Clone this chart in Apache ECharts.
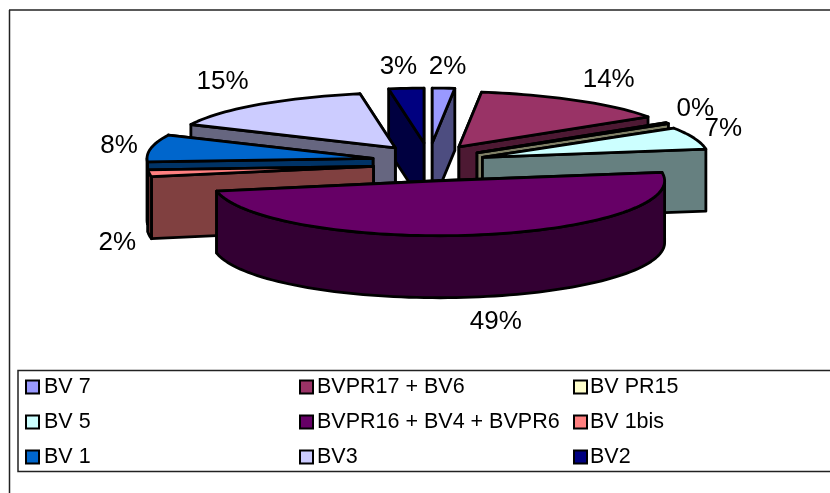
<!DOCTYPE html>
<html><head><meta charset="utf-8">
<style>html,body{margin:0;padding:0;background:#fff}#c{width:830px;height:493px}</style>
<script src="https://cdn.jsdelivr.net/npm/echarts@6/dist/echarts.min.js"></script>
</head><body><div id="c"></div>
<script>
const categories = ['BV 7','BVPR17 + BV6','BV PR15','BV 5','BVPR16 + BV4 + BVPR6','BV 1bis','BV 1','BV3','BV2'];
const values = [1.8,14,0.3,6.5,49.4,2,8,15.2,2.8];
const labels = ['2%','14%','0%','7%','49%','2%','8%','15%','3%'];
const topColors = ['#9999FF','#993366','#FFFFCC','#CCFFFF','#660066','#FF8080','#0066CC','#CCCCFF','#000080'];
const wallColors = ['#4D4D80','#4D1933','#808066','#668080','#330033','#804040','#003366','#666680','#000040'];
const labelOffsets = [[4,-21],[35,-20],[28,-14],[29,-9],[19,87],[-32,70],[-32,-2],[-38,-22],[-8,-21]];
const sliceNudges = [[0,0],[0,1],[0,1],[0,2],[0,0],[1,2],[0,0],[1,1],[0,0]];
const legendColumns = [[0,3,6],[1,4,7],[2,5,8]];
const legendLefts = [25,299,573];
const legendTextPads = [0,-1,-2];

const PIE = {cx:429, cy:162, rx:226, ry:55, depth:62, ex:57, ey:19, persp:0.12};
const total = values.reduce((a,b)=>a+b,0);
const rad = d=>d*Math.PI/180;
const slices = []; let acc = 0;
values.forEach((v,i)=>{
  const a0 = acc/total*2*Math.PI; acc += v; const a1 = acc/total*2*Math.PI; const m=(a0+a1)/2;
  slices.push({a0,a1,m,
    cx:PIE.cx+PIE.ex*Math.sin(m)+sliceNudges[i][0],
    cy:PIE.cy-PIE.ey*Math.cos(m)+sliceNudges[i][1]});
});
const rim=(s,a)=>{
  const c=Math.cos(a), f=1-PIE.persp*Math.pow(Math.max(0,c),8);
  return [s.cx+PIE.rx*f*Math.sin(a),s.cy-PIE.ry*c];
};
function arcPts(s,a0,a1,dy){
  const n=Math.max(2,Math.ceil((a1-a0)/rad(2))),p=[];
  for(let k=0;k<=n;k++){const r=rim(s,a0+(a1-a0)*k/n);p.push([r[0],r[1]+dy]);}
  return p;
}
const order = slices.map((s,i)=>i).sort((a,b)=>slices[a].cy-slices[b].cy);
const zOf = {}; order.forEach((i,r)=>zOf[i]=r+1);
const lineStyle = (fill)=>({fill,stroke:'#000',lineWidth:2.8,lineJoin:'round'});

function renderSlice(idx){
  return function(){
    const s=slices[idx], d=PIE.depth, w=wallColors[idx], ch=[];
    const poly=(points,fill)=>ch.push({type:'polygon',shape:{points},style:lineStyle(fill)});
    const c=[s.cx,s.cy], r0=rim(s,s.a0), r1=rim(s,s.a1);
    const cut=[[c,[c[0],c[1]+d],[r0[0],r0[1]+d],r0],[c,[c[0],c[1]+d],[r1[0],r1[1]+d],r1]];
    cut.sort((p,q)=>(p[3][1]-q[3][1]));
    cut.forEach(p=>poly(p,w));
    const f0=Math.max(s.a0,Math.PI/2), f1=Math.min(s.a1,Math.PI*1.5);
    if(f1>f0){
      const up=arcPts(s,f0,f1,0), dn=arcPts(s,f0,f1,d).reverse();
      poly(up.concat(dn),w);
    }
    poly([c].concat(arcPts(s,s.a0,s.a1,0)),topColors[idx]);
    return {type:'group',children:ch};
  };
}
function renderLabel(idx){
  return function(){
    const s=slices[idx], r=rim(s,s.m), o=labelOffsets[idx];
    return {type:'text',style:{x:r[0]+o[0],y:r[1]+o[1],text:labels[idx],fill:'#000',
      font:'26px "Liberation Sans", Arial, sans-serif',align:'center',verticalAlign:'middle'}};
  };
}
const series = categories.map((name,i)=>({
  type:'custom',name,coordinateSystem:'none',silent:true,animation:false,
  z:zOf[i]+2,data:[[values[i]]],itemStyle:{color:topColors[i]},renderItem:renderSlice(i)
}));
categories.forEach((name,i)=>series.push({
  type:'custom',name:'label-'+i,coordinateSystem:'none',silent:true,animation:false,
  z:30,data:[[values[i]]],renderItem:renderLabel(i)
}));
const legend = legendColumns.map((col,j)=>({
  orient:'vertical',left:legendLefts[j],top:376,itemGap:13,itemWidth:13,itemHeight:13,
  padding:0,selectedMode:false,z:40,
  textStyle:{fontFamily:'"Liberation Sans", Arial, sans-serif',fontSize:21.5,color:'#000',padding:[0,0,0,legendTextPads[j]]},
  data:col.map(i=>({name:categories[i],icon:'rect',itemStyle:{color:topColors[i],borderColor:'#000',borderWidth:2}}))
}));
const frameStyle = {stroke:'#222',lineWidth:1.5};
const chart = echarts.init(document.getElementById('c'),null,{renderer:'canvas'});
chart.setOption({
  animation:false,backgroundColor:'#fff',
  graphic:[
    {type:'line',z:1,shape:{x1:9.5,y1:10,x2:9.5,y2:493},style:frameStyle},
    {type:'line',z:1,shape:{x1:9,y1:10,x2:830,y2:10},style:frameStyle},
    {type:'rect',z:1,shape:{x:18,y:370.5,width:820,height:101},style:{fill:'#fff',stroke:'#222',lineWidth:1.5}}
  ],
  legend,series
});
</script></body></html>
